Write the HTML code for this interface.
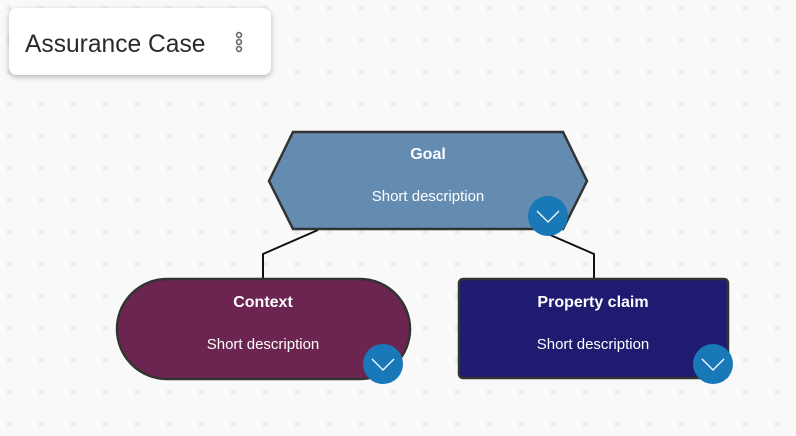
<!DOCTYPE html>
<html><head><meta charset="utf-8"><style>
html,body{margin:0;padding:0;width:796px;height:436px;overflow:hidden;background:#f9f9f9;font-family:"Liberation Sans",sans-serif}
</style></head><body>
<svg width="796" height="436" xmlns="http://www.w3.org/2000/svg" style="position:absolute;left:0;top:0">
<defs>
<pattern id="d" x="9" y="8" width="32" height="32" patternUnits="userSpaceOnUse">
<circle cx="0" cy="0" r="2.6" fill="#e6ecf2"/><circle cx="32" cy="0" r="2.6" fill="#e6ecf2"/><circle cx="0" cy="32" r="2.6" fill="#e6ecf2"/><circle cx="32" cy="32" r="2.6" fill="#e6ecf2"/>
</pattern>
<filter id="sh" x="-10%" y="-20%" width="120%" height="160%"><feDropShadow dx="0" dy="2" stdDeviation="3" flood-color="#000" flood-opacity="0.28"/></filter>
</defs>
<rect width="796" height="436" fill="url(#d)"/>
<rect x="9" y="8" width="262" height="67" rx="8" fill="#fff" filter="url(#sh)"/>
<text x="25" y="52" font-size="24.6" fill="#2a2a2e">Assurance Case</text>
<g fill="none" stroke="#666" stroke-width="1.6"><circle cx="239" cy="35" r="2.4"/><circle cx="239" cy="42" r="2.4"/><circle cx="239" cy="49" r="2.4"/></g>
<polyline points="318,230 263,254 263,280" fill="none" stroke="#111" stroke-width="2"/>
<polyline points="548,234 594,254 594,280" fill="none" stroke="#111" stroke-width="2"/>
<polygon points="293,132 563,132 587,181 563,229 293,229 269,181" fill="#648bb0" stroke="#333" stroke-width="2.5"/>
<text x="428" y="159" font-size="16" font-weight="bold" fill="#fff" text-anchor="middle">Goal</text>
<text x="428" y="201" font-size="15" fill="#fff" text-anchor="middle">Short description</text>
<circle cx="548" cy="216" r="20" fill="#1878b8"/>
<polyline points="537,211 548,222 559,211" fill="none" stroke="#fff" stroke-width="1.3"/>
<rect x="117" y="279" width="293" height="100" rx="50" fill="#6b2550" stroke="#333" stroke-width="2.5"/>
<text x="263" y="307" font-size="16" font-weight="bold" fill="#fff" text-anchor="middle">Context</text>
<text x="263" y="349" font-size="15" fill="#fff" text-anchor="middle">Short description</text>
<circle cx="383" cy="364" r="20" fill="#1878b8"/>
<polyline points="372,359 383,370 394,359" fill="none" stroke="#fff" stroke-width="1.3"/>
<rect x="459" y="279" width="269" height="99" rx="4" fill="#1e1b70" stroke="#333" stroke-width="2.5"/>
<text x="593" y="307" font-size="16" font-weight="bold" fill="#fff" text-anchor="middle">Property claim</text>
<text x="593" y="349" font-size="15" fill="#fff" text-anchor="middle">Short description</text>
<circle cx="713" cy="364" r="20" fill="#1878b8"/>
<polyline points="702,359 713,370 724,359" fill="none" stroke="#fff" stroke-width="1.3"/>
</svg>
</body></html>
